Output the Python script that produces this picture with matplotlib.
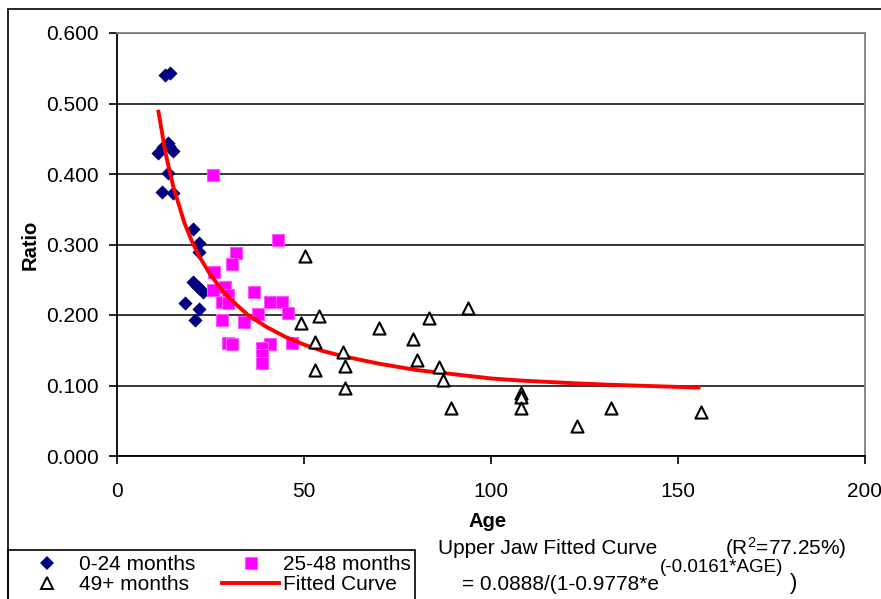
import matplotlib
matplotlib.use("Agg")
import matplotlib.pyplot as plt
from matplotlib.lines import Line2D
from matplotlib.patches import Rectangle

plt.rcParams['font.family'] = ['Liberation Sans', 'DejaVu Sans']
plt.rcParams['mathtext.fontset'] = 'custom'
plt.rcParams['mathtext.rm'] = 'Liberation Sans'
plt.rcParams['mathtext.it'] = 'Liberation Sans:italic'
plt.rcParams['mathtext.bf'] = 'Liberation Sans:bold'

# ---------------- data ----------------
age_0_24 = [12.8, 14.2, 11.0, 12.3, 13.6, 14.0, 15.0, 13.6, 12.0, 15.0,
            20.3, 21.9, 21.9, 20.3, 21.3, 22.0, 23.0, 18.2, 21.9, 20.9]
ratio_0_24 = [0.540, 0.543, 0.430, 0.438, 0.444, 0.440, 0.433, 0.401, 0.375, 0.373,
              0.322, 0.302, 0.290, 0.247, 0.241, 0.238, 0.233, 0.217, 0.209, 0.193]

age_25_48 = [25.7, 43.0, 31.8, 30.7, 25.9, 25.7, 28.9, 29.7, 28.1, 29.7,
             36.6, 40.9, 44.1, 45.7, 37.7, 28.1, 34.0, 29.7, 30.7, 40.9,
             38.8, 38.8, 38.8, 46.8]
ratio_25_48 = [0.399, 0.306, 0.288, 0.272, 0.261, 0.235, 0.240, 0.228, 0.218, 0.217,
               0.233, 0.219, 0.219, 0.203, 0.201, 0.193, 0.190, 0.160, 0.159, 0.159,
               0.153, 0.143, 0.132, 0.160]

age_49p = [50.3, 54.0, 49.2, 70.1, 83.4, 93.9, 52.9, 79.1, 60.4, 80.2, 61.0,
           52.9, 86.1, 87.2, 61.0, 89.3, 108.0, 108.0, 108.0, 123.0, 132.1, 156.1]
ratio_49p = [0.284, 0.198, 0.189, 0.182, 0.196, 0.210, 0.162, 0.166, 0.148, 0.136, 0.128,
             0.122, 0.126, 0.108, 0.096, 0.068, 0.090, 0.084, 0.068, 0.043, 0.068, 0.062]

fit_age = [11, 13, 15, 18, 20, 22, 25, 28, 30, 35, 40, 45, 50, 55, 60, 70,
           80, 90, 100, 108, 123, 132, 156]
fit_ratio = [0.491, 0.429, 0.383, 0.331, 0.305, 0.283, 0.257, 0.236, 0.224, 0.200,
             0.183, 0.169, 0.158, 0.149, 0.142, 0.131, 0.122, 0.116, 0.110, 0.107,
             0.103, 0.101, 0.097]

x_ticks = [0, 50, 100, 150, 200]
y_ticks = [0.0, 0.1, 0.2, 0.3, 0.4, 0.5, 0.6]
series_labels = ['0-24 months', '49+ months', '25-48 months', 'Fitted Curve']

# ---------------- figure ----------------
W, H = 881, 599
fig = plt.figure(figsize=(W / 100, H / 100), dpi=100)
ax = fig.add_axes([117 / W, 1 - 456 / H, 748 / W, 423 / H])

ax.scatter(age_0_24, ratio_0_24, marker='D', s=52, color='#000080', zorder=3, linewidths=0)
ax.scatter(age_25_48, ratio_25_48, marker='s', s=64, facecolor='#FF00FF',
           edgecolor='#FF55FF', linewidths=0.8, zorder=3)
ax.plot(fit_age, fit_ratio, color='#FF0000', lw=2.8, zorder=4, solid_capstyle='butt')
ax.scatter(age_49p, ratio_49p, marker='^', s=76, facecolor='white',
           edgecolor='black', linewidths=1.5, zorder=5)

ax.set_xlim(0, 200)
ax.set_ylim(0, 0.6)
ax.set_xticks(x_ticks)
ax.set_xticklabels([str(v) for v in x_ticks])
ax.set_yticks(y_ticks)
ax.set_yticklabels(['%.3f' % v for v in y_ticks])
ax.tick_params(axis='both', labelsize=15, direction='out', width=1.2, color='black')
ax.tick_params(axis='y', length=6, pad=7)
ax.tick_params(axis='x', length=6, pad=13)

ax.grid(axis='y', color='black', lw=1.1)
ax.set_axisbelow(True)
for s in ['left', 'bottom']:
    ax.spines[s].set_color('black')
    ax.spines[s].set_linewidth(1.3)
for s in ['top', 'right']:
    ax.spines[s].set_color('#808080')
    ax.spines[s].set_linewidth(1.3)

ax.set_xlabel('Age', fontsize=14.5, fontweight='bold')
ax.set_ylabel('Ratio', fontsize=14.5, fontweight='bold')
ax.xaxis.set_label_coords(0.496, -0.133)
ax.yaxis.set_label_coords(-0.103, 0.5)

# outer chart border
fig.patches.append(Rectangle((8 / W, -0.1), 1.2, 1 - 9 / H + 0.1, transform=fig.transFigure,
                             fill=False, ec='black', lw=1.2, zorder=0))
# legend box
fig.patches.append(Rectangle((8 / W, -0.1), (415 - 8) / W, 1 - 550 / H + 0.1,
                             transform=fig.transFigure, fill=False, ec='black', lw=1.2, zorder=0))

handles = [
    Line2D([], [], marker='D', ls='none', color='#000080', ms=7, mew=0),
    Line2D([], [], marker='^', ls='none', mfc='white', mec='black', ms=8, mew=1.4),
    Line2D([], [], marker='s', ls='none', mfc='#FF00FF', mec='#FF55FF', ms=8, mew=0.8),
    Line2D([], [], color='#FF0000', lw=2.8),
]
leg = fig.legend(handles, series_labels, ncol=2, loc='upper left',
                 bbox_to_anchor=(18 / W, 1 - 555 / H), bbox_transform=fig.transFigure,
                 frameon=False, borderpad=0, borderaxespad=0, fontsize=15,
                 handlelength=2.75, handletextpad=0.2, columnspacing=1.25,
                 labelspacing=0.05)

# equation annotation
fig.text(438 / W, 1 - 548 / H, 'Upper Jaw Fitted Curve', fontsize=15, va='center', ha='left')
fig.text(725 / W, 1 - 548 / H, r'(R$^{2}$=77.25%)', fontsize=15, va='center', ha='left')
fig.text(462 / W, 1 - 585 / H, '= 0.0888/(1-0.9778*e', fontsize=15, va='center', ha='left')
fig.text(660 / W, 1 - 567 / H, '(-0.0161*AGE)', fontsize=13.5, va='center', ha='left')
fig.text(790 / W, 1 - 584 / H, ')', fontsize=16, va='center', ha='left')

fig.savefig('out.png', dpi=100)
